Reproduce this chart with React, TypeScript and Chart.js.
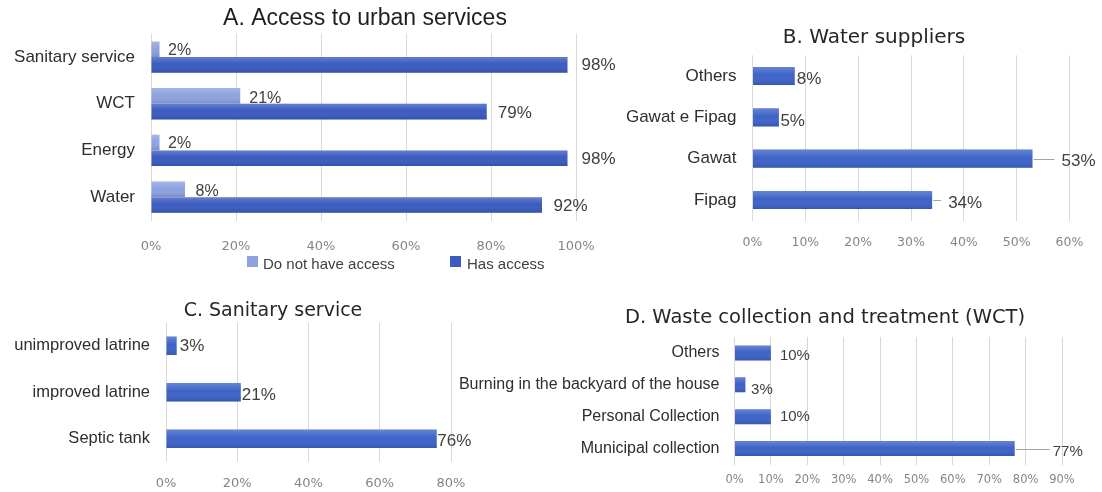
import React, { useEffect, useRef } from "react";
import { Chart, registerables } from "chart.js";

Chart.register(...registerables);

const W = 1102;
const H = 492;

// ---------- Panel A: Access to urban services ----------
const accessTitle = "A. Access to urban services";
const accessCategories = ["Sanitary service", "WCT", "Energy", "Water"];
const accessSeriesNames = ["Do not have access", "Has access"];
const noAccessValues = [2, 21, 2, 8];
const hasAccessValues = [98, 79, 98, 92];
const accessTickMax = 100;
const accessTickStep = 20;

// ---------- Panel B: Water suppliers ----------
const supplierTitle = "B. Water suppliers";
const supplierCategories = ["Others", "Gawat e Fipag", "Gawat", "Fipag"];
const supplierValues = [8, 5, 53, 34];
const supplierTickMax = 60;
const supplierTickStep = 10;

// ---------- Panel C: Sanitary service ----------
const sanitaryTitle = "C. Sanitary service";
const sanitaryCategories = ["unimproved latrine", "improved latrine", "Septic tank"];
const sanitaryValues = [3, 21, 76];
const sanitaryTickMax = 80;
const sanitaryTickStep = 20;

// ---------- Panel D: Waste collection and treatment ----------
const wasteTitle = "D. Waste collection and treatment (WCT)";
const wasteCategories = [
  "Others",
  "Burning in the backyard of the house",
  "Personal Collection",
  "Municipal collection",
];
const wasteValues = [10, 3, 10, 77];
const wasteTickMax = 90;
const wasteTickStep = 10;

// ---------- styles ----------
const LIGHT = "#8ea2df";
const DARK = "#3a5bbf";
const BLUE = "#3d63c8";
const GRID = "#d9d9d9";
const TICK = "#858585";
const CAT = "#2e2e2e";
const LAB = "#404040";

type Area = { l: number; r: number; t: number; b: number };

type LabelSpec = {
  font: string;
  color: string;
  shift: number[];
  dy: number[];
  leaderGap?: number;
};

function labelPlugin(id: string, specs: LabelSpec[]) {
  return {
    id,
    afterDatasetsDraw(chart: any) {
      const ctx = chart.ctx;
      specs.forEach((spec, di) => {
        const meta = chart.getDatasetMeta(di);
        meta.data.forEach((el: any, i: number) => {
          const v = chart.data.datasets[di].data[i];
          const tx = el.x + spec.shift[i];
          const ty = el.y + spec.dy[i];
          ctx.save();
          if (spec.leaderGap !== undefined && spec.shift[i] > 12) {
            ctx.strokeStyle = "#a6a6a6";
            ctx.lineWidth = 1;
            ctx.beginPath();
            ctx.moveTo(el.x + 1, Math.round(el.y) + 0.5);
            ctx.lineTo(tx - spec.leaderGap, Math.round(el.y) + 0.5);
            ctx.stroke();
          }
          ctx.font = spec.font;
          ctx.fillStyle = spec.color;
          ctx.textAlign = "left";
          ctx.textBaseline = "middle";
          ctx.fillText(v + "%", tx, ty);
          ctx.restore();
        });
      });
    },
  };
}

const shadePlugin = {
  id: "shade",
  afterDatasetsDraw(chart: any) {
    const ctx = chart.ctx;
    chart.data.datasets.forEach((_d: any, di: number) => {
      const meta = chart.getDatasetMeta(di);
      meta.data.forEach((el: any) => {
        const top = el.y - el.height / 2;
        const left = Math.min(el.base, el.x);
        const w = Math.abs(el.x - el.base);
        const g = ctx.createLinearGradient(0, top, 0, top + el.height);
        g.addColorStop(0, "rgba(255,255,255,0.22)");
        g.addColorStop(0.45, "rgba(255,255,255,0)");
        g.addColorStop(1, "rgba(0,0,40,0.14)");
        ctx.save();
        ctx.fillStyle = g;
        ctx.fillRect(left, top, w, el.height);
        ctx.restore();
      });
    });
  },
};

type TextItem = { text: string; x: number; y: number; font: string; color: string; align?: CanvasTextAlign };
type BoxItem = { x: number; y: number; size: number; color: string };

function textPlugin(id: string, texts: TextItem[], boxes: BoxItem[] = []) {
  return {
    id,
    afterDraw(chart: any) {
      const ctx = chart.ctx;
      ctx.save();
      boxes.forEach((b) => {
        ctx.fillStyle = b.color;
        ctx.fillRect(b.x, b.y, b.size, b.size);
      });
      texts.forEach((t) => {
        ctx.font = t.font;
        ctx.fillStyle = t.color;
        ctx.textAlign = t.align || "center";
        ctx.textBaseline = "middle";
        ctx.fillText(t.text, t.x, t.y);
      });
      ctx.restore();
    },
  };
}

function buildConfig(o: {
  labels: string[];
  datasets: any[];
  area: Area;
  max: number;
  step: number;
  catPct: number;
  yFontSize: number;
  yPad: number;
  tickFontSize: number;
  tickPad: number;
  plugins: any[];
}) {
  const yW = o.area.l - 2;
  const xH = 30;
  return {
    type: "bar",
    data: { labels: o.labels, datasets: o.datasets },
    options: {
      indexAxis: "y",
      responsive: false,
      animation: false,
      events: [],
      layout: {
        padding: {
          left: o.area.l - yW,
          right: W - o.area.r,
          top: o.area.t,
          bottom: H - o.area.b - xH,
        },
      },
      datasets: { bar: { categoryPercentage: o.catPct, barPercentage: 1 } },
      scales: {
        x: {
          type: "linear",
          min: 0,
          max: o.max,
          ticks: {
            stepSize: o.step,
            callback: (v: any) => v + "%",
            font: { family: "DejaVu Sans", size: o.tickFontSize },
            color: TICK,
            padding: o.tickPad,
            maxRotation: 0,
            autoSkip: false,
          },
          grid: { color: GRID, lineWidth: 1, drawTicks: false },
          border: { display: false },
          afterFit: (s: any) => {
            s.height = xH;
          },
        },
        y: {
          type: "category",
          ticks: {
            font: { family: "Liberation Sans", size: o.yFontSize },
            color: CAT,
            padding: o.yPad,
            autoSkip: false,
          },
          grid: { display: false, drawTicks: false },
          border: { display: false },
          afterFit: (s: any) => {
            s.width = yW;
          },
        },
      },
      plugins: {
        legend: { display: false },
        title: { display: false },
        tooltip: { enabled: false },
      },
    },
    plugins: o.plugins,
  };
}

function configA() {
  return buildConfig({
    labels: accessCategories,
    datasets: [
      { label: accessSeriesNames[0], data: noAccessValues, backgroundColor: LIGHT, borderWidth: 0 },
      { label: accessSeriesNames[1], data: hasAccessValues, backgroundColor: DARK, borderWidth: 0 },
    ],
    area: { l: 151, r: 576, t: 33.7, b: 220.5 },
    max: accessTickMax,
    step: accessTickStep,
    catPct: 0.67,
    yFontSize: 17,
    yPad: 16,
    tickFontSize: 13,
    tickPad: 18,
    plugins: [
      shadePlugin,
      labelPlugin("labA", [
        { font: '16px "Liberation Sans"', color: LAB, shift: [8.5, 9, 8.5, 10.5], dy: [1, 3, 1, 2] },
        { font: '17px "Liberation Sans"', color: LAB, shift: [14, 11, 14, 11.5], dy: [0, 2, 1, 1] },
      ]),
      textPlugin(
        "txtA",
        [
          { text: accessTitle, x: 365, y: 19, font: '23px "Liberation Sans"', color: "#1f1f1f" },
          { text: accessSeriesNames[0], x: 263, y: 265, font: '15px "Liberation Sans"', color: LAB, align: "left" },
          { text: accessSeriesNames[1], x: 467, y: 265, font: '15px "Liberation Sans"', color: LAB, align: "left" },
        ],
        [
          { x: 247, y: 256, size: 11, color: LIGHT },
          { x: 450, y: 256, size: 11, color: DARK },
        ]
      ),
    ],
  });
}

function configB() {
  return buildConfig({
    labels: supplierCategories,
    datasets: [{ label: supplierTitle, data: supplierValues, backgroundColor: BLUE, borderWidth: 0 }],
    area: { l: 752.5, r: 1069.5, t: 55.3, b: 220.7 },
    max: supplierTickMax,
    step: supplierTickStep,
    catPct: 0.44,
    yFontSize: 17,
    yPad: 16,
    tickFontSize: 12.5,
    tickPad: 15,
    plugins: [
      shadePlugin,
      labelPlugin("labB", [
        { font: '17px "Liberation Sans"', color: LAB, shift: [2, 1.5, 29, 16], dy: [3.5, 4, 2.5, 3], leaderGap: 7 },
      ]),
      textPlugin("txtB", [
        { text: supplierTitle, x: 874, y: 38, font: '20px "DejaVu Sans"', color: "#262626" },
      ]),
    ],
  });
}

function configC() {
  return buildConfig({
    labels: sanitaryCategories,
    datasets: [{ label: sanitaryTitle, data: sanitaryValues, backgroundColor: BLUE, borderWidth: 0 }],
    area: { l: 166, r: 451, t: 322.5, b: 462 },
    max: sanitaryTickMax,
    step: sanitaryTickStep,
    catPct: 0.4,
    yFontSize: 16.5,
    yPad: 16,
    tickFontSize: 13,
    tickPad: 14,
    plugins: [
      shadePlugin,
      labelPlugin("labC", [
        { font: '17px "Liberation Sans"', color: LAB, shift: [3, 1, 0.5], dy: [1, 3, 3] },
      ]),
      textPlugin("txtC", [
        { text: sanitaryTitle, x: 273, y: 311, font: '19px "DejaVu Sans"', color: "#262626" },
      ]),
    ],
  });
}

function configD() {
  return buildConfig({
    labels: wasteCategories,
    datasets: [{ label: wasteTitle, data: wasteValues, backgroundColor: BLUE, borderWidth: 0 }],
    area: { l: 734.5, r: 1062, t: 337, b: 464.5 },
    max: wasteTickMax,
    step: wasteTickStep,
    catPct: 0.47,
    yFontSize: 16,
    yPad: 15,
    tickFontSize: 11.5,
    tickPad: 8.6,
    plugins: [
      shadePlugin,
      labelPlugin("labD", [
        { font: '15px "Liberation Sans"', color: LAB, shift: [9, 5.7, 9, 38], dy: [3, 5, 0, 3], leaderGap: 3 },
      ]),
      textPlugin("txtD", [
        { text: wasteTitle, x: 825, y: 318, font: '19.5px "DejaVu Sans"', color: "#262626" },
      ]),
    ],
  });
}

function Panel({ build }: { build: () => any }) {
  const ref = useRef<HTMLCanvasElement>(null);
  useEffect(() => {
    const chart = new Chart(ref.current as HTMLCanvasElement, build());
    return () => chart.destroy();
  }, [build]);
  return (
    <canvas
      ref={ref}
      width={W}
      height={H}
      style={{ position: "absolute", left: 0, top: 0, width: W, height: H }}
    />
  );
}

export default function App() {
  return (
    <div style={{ position: "fixed", left: 0, top: 0, width: W, height: H, background: "#ffffff" }}>
      <Panel build={configA} />
      <Panel build={configB} />
      <Panel build={configC} />
      <Panel build={configD} />
    </div>
  );
}
